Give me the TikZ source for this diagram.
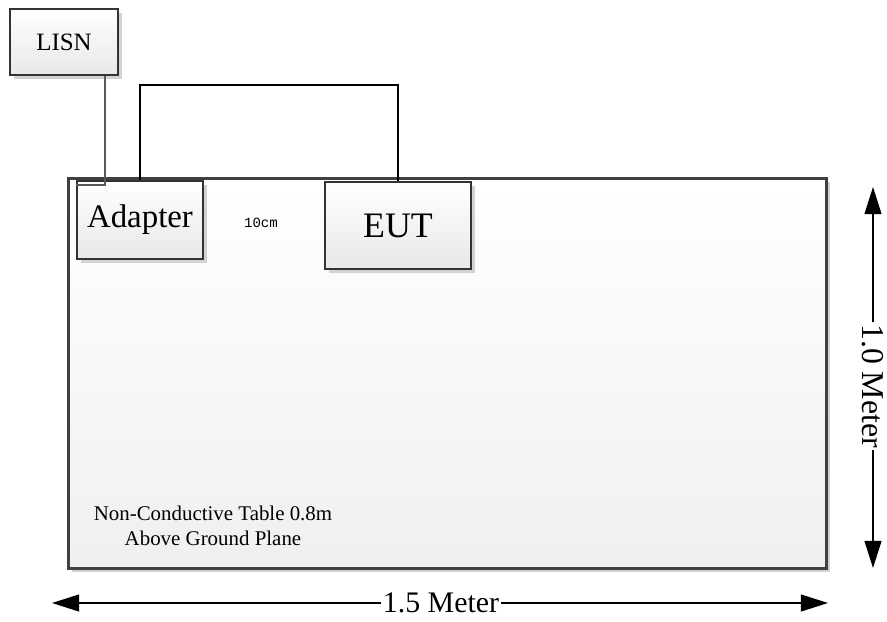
\documentclass[tikz,border=0pt]{standalone}
\usepackage{fontspec}
\setmainfont{Liberation Serif}
\newfontfamily\monofont{Liberation Mono}
\usetikzlibrary{arrows.meta,shadows}
\begin{document}
\begin{tikzpicture}[x=0.02cm,y=-0.02cm,>={Triangle[length=15.5pt,width=9.6pt]},
    box/.style={draw=black!80,line width=0.6pt,top color=white,bottom color=gray!18,
        drop shadow={shadow xshift=2.2pt,shadow yshift=-2.2pt,fill=gray!35,opacity=1},
        inner sep=0pt},
    cable/.style={line width=0.6pt},
    dim/.style={<->,line width=1.1pt}]
        \useasboundingbox (0,0) rectangle (887,622);
        % table
        \node[box,draw=black!75,line width=1.7pt,bottom color=gray!12,
            minimum width=15.16cm,minimum height=7.8cm] (table) at (447.5,373.5) {};
        % equipment
        \node[box,minimum width=2.16cm,minimum height=1.32cm,font=\fontsize{14.2}{16}\selectfont] (lisn) at (64,42) {LISN};
        \node[box,minimum width=2.52cm,minimum height=1.56cm,font=\fontsize{18.7}{21}\selectfont] (adapter) at (140,220) {Adapter};
        \node[box,minimum width=2.92cm,minimum height=1.74cm,font=\fontsize{20.4}{23}\selectfont] (eut) at (398,225.5) {EUT};
        \node[font=\monofont\fontsize{8}{9}\selectfont] (gap) at (261,222.5) {10cm};
        \node[align=center,font=\fontsize{11.9}{14.2}\selectfont] (note) at (213,526) {Non-Conductive Table 0.8m\\Above Ground Plane};
        % cables
        \coordinate (tap) at (105,185);
        \coordinate (bend) at (0,85);
        \draw[cable,black!65] (lisn.south -| tap) |- (adapter.west |- tap);
        \draw[cable] (adapter.north) -- (adapter.north |- bend) -| (eut.north);
        % dimensions
        \coordinate (wl) at (52,603);
        \coordinate (wr) at (828,603);
        \coordinate (ht) at (873,187);
        \coordinate (hb) at (873,568);
        \draw[dim] (wl) -- (wr);
        \draw[dim] (ht) -- (hb);
        \node[fill=white,inner sep=1pt,font=\fontsize{17}{19}\selectfont] (width) at (441,603) {1.5 Meter};
        \node[fill=white,inner sep=1pt,rotate=-90,font=\fontsize{18.1}{20}\selectfont] (height) at (873,386) {1.0 Meter};
    \end{tikzpicture}
\end{document}
